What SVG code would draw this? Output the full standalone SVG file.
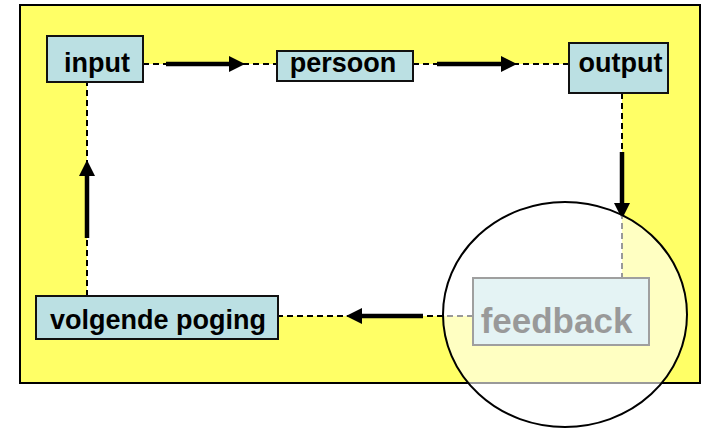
<svg xmlns="http://www.w3.org/2000/svg" width="704" height="429" viewBox="0 0 704 429">
<style>
.box{fill:#BBE0E3;stroke:#111;stroke-width:2}
.lbl{font-family:"Liberation Sans",Arial,sans-serif;font-weight:bold;font-size:27px;fill:#000;text-anchor:middle}
.dash{stroke:#000;stroke-width:2;stroke-dasharray:6,4;fill:none}
.thick{stroke:#000;stroke-width:4.5;fill:none;marker-end:url(#ah)}
</style>
<defs>
<marker id="ah" viewBox="0 0 16 16" refX="0" refY="8" markerWidth="16" markerHeight="16" markerUnits="userSpaceOnUse" orient="auto">
<path d="M0,0 L16,8 L0,16 z" fill="#000"/>
</marker>
</defs>
<rect x="20" y="5" width="680" height="378" fill="#FFFF66" stroke="#000" stroke-width="2"/>
<rect x="87" y="64" width="535" height="252" fill="#FFFFFF"/>
<g id="connectors">
<line class="dash" x1="143" y1="64" x2="277" y2="64"/>
<line class="dash" x1="413" y1="64" x2="569" y2="64"/>
<line class="dash" x1="622" y1="93" x2="622" y2="278"/>
<line class="dash" x1="473" y1="316" x2="278" y2="316"/>
<line class="dash" x1="87" y1="296" x2="87" y2="82"/>
<line class="thick" x1="166" y1="64" x2="229" y2="64"/>
<line class="thick" x1="437" y1="64" x2="501" y2="64"/>
<line class="thick" x1="622" y1="152" x2="622" y2="203"/>
<line class="thick" x1="423" y1="316" x2="362" y2="316"/>
<line class="thick" x1="87" y1="238" x2="87" y2="176"/>
</g>
<g id="input">
<rect class="box" x="47" y="36" width="96" height="46"/>
<text class="lbl" x="97" y="72">input</text>
</g>
<g id="persoon">
<rect class="box" x="277" y="51" width="136" height="30"/>
<text class="lbl" x="343" y="72">persoon</text>
</g>
<g id="output">
<rect class="box" x="569" y="43" width="99" height="50"/>
<text class="lbl" x="620.5" y="72">output</text>
</g>
<g id="volgende-poging">
<rect class="box" x="36" y="296" width="242" height="43"/>
<text class="lbl" x="158" y="329">volgende poging</text>
</g>
<g id="feedback">
<rect class="box" x="473" y="278" width="176" height="67"/>
<text class="lbl" x="556.5" y="333" style="font-size:35px">feedback</text>
</g>
<ellipse id="loupe" cx="565" cy="314.5" rx="122" ry="112.5" fill="#FFFFFF" fill-opacity="0.6" stroke="#000" stroke-width="2"/>
</svg>
